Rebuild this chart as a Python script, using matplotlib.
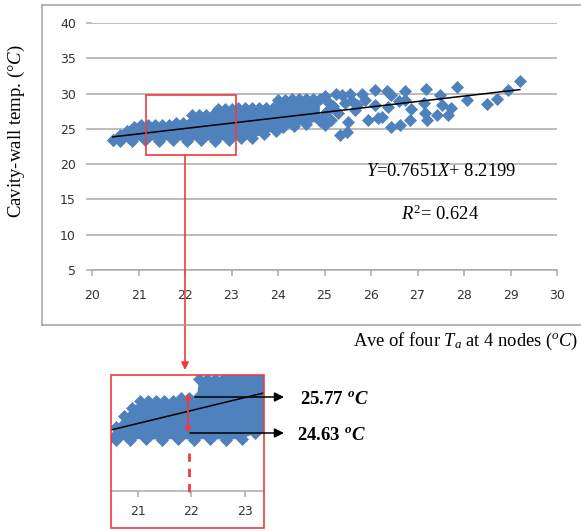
import matplotlib
matplotlib.use('Agg')
from matplotlib import pyplot as plt
from matplotlib.patches import Rectangle, FancyArrowPatch
from matplotlib.lines import Line2D
import numpy as np

plt.rcParams['font.family'] = ['Liberation Serif', 'DejaVu Sans']
plt.rcParams['mathtext.fontset'] = 'custom'
plt.rcParams['mathtext.rm'] = 'Liberation Serif'
plt.rcParams['mathtext.it'] = 'Liberation Serif:italic'
plt.rcParams['mathtext.bf'] = 'Liberation Serif:bold'
plt.rcParams['mathtext.bfit'] = 'Liberation Serif:italic:bold'

# dense band of points: upper and lower edges of the cloud
top_x = [20.45, 20.6, 20.75, 20.9, 21.05, 21.2, 21.35, 21.5, 21.65, 21.8, 21.95, 22.1,
         22.15, 22.3, 22.45, 22.6, 22.7, 22.85, 23.0, 23.15, 23.3, 23.45, 23.6, 23.75,
         23.9, 24.0, 24.15, 24.3, 24.45, 24.6, 24.75, 24.9]
top_y = [23.4, 24.1, 24.7, 25.2, 25.6, 25.6, 25.6, 25.6, 25.6, 25.8, 25.8, 25.8,
         26.9, 26.9, 26.9, 26.9, 27.8, 27.8, 27.8, 27.9, 27.9, 27.9, 28.0, 28.0,
         28.0, 29.1, 29.1, 29.2, 29.2, 29.2, 29.2, 29.2]
bot_x = [20.45, 20.6, 20.85, 21.15, 21.45, 21.75, 22.05, 22.35, 22.65, 22.95, 23.2,
         23.45, 23.7, 23.95, 24.1, 24.35, 24.6, 24.9]
bot_y = [23.4, 23.3, 23.3, 23.4, 23.3, 23.4, 23.3, 23.4, 23.3, 23.4, 23.7,
         23.7, 24.3, 24.7, 25.3, 25.4, 25.7, 26.1]

# scattered points beyond the band
pts_x = [24.95, 25.0, 25.0, 25.05, 25.1, 25.15, 25.19, 25.25, 25.3, 25.33, 25.37, 25.45,
         25.48, 25.5, 25.55, 25.6, 25.66, 25.7, 25.8, 25.87, 25.94, 26.09, 26.09, 26.15,
         26.23, 26.34, 26.37, 26.41, 26.44, 26.44, 26.6, 26.62, 26.73, 26.73, 26.84, 26.85,
         27.13, 27.16, 27.18, 27.2, 27.43, 27.48, 27.52, 27.66, 27.72, 27.84, 28.07, 28.49,
         28.72, 28.95, 29.2]
pts_y = [26.5, 29.6, 25.6, 27.5, 28.6, 26.3, 28.2, 29.9, 27.3, 24.1, 29.8, 28.6,
         24.6, 26.0, 29.9, 29.0, 27.7, 28.4, 30.0, 29.1, 26.3, 30.5, 28.4, 26.5,
         26.7, 30.3, 28.1, 30.0, 29.8, 25.3, 29.0, 25.55, 30.3, 29.1, 26.3, 27.75,
         28.6, 27.2, 30.6, 26.2, 27.0, 29.8, 28.4, 27.0, 27.9, 31.0, 29.1, 28.5,
         29.3, 30.5, 31.8]

slope, intercept = 0.7651, 8.2199
fit_x = np.array([20.45, 29.2])
fit_y = slope * fit_x + intercept

blue = '#4F81BD'
grid_c = '#ABABAB'
red = '#F03C3C'
W, H = 581, 531


def fx(px):
    return px / W


def fy(py):
    return 1 - py / H


def draw_data(ax):
    ax.fill(top_x + bot_x[::-1], top_y + bot_y[::-1], color=blue, lw=0, zorder=2)
    ax.scatter(top_x + bot_x, top_y + bot_y, marker='D', s=44, color=blue, lw=0, zorder=2)
    ax.scatter(pts_x, pts_y, marker='D', s=44, color=blue, lw=0, zorder=2)
    ax.plot(fit_x, fit_y, color='black', lw=1.1, zorder=3)


fig = plt.figure(figsize=(5.81, 5.31), dpi=100)

# outer frame of the main chart
for seg in [((42, 42), (5, 325)), ((42, 581), (5, 5)), ((42, 581), (325, 325))]:
    fig.add_artist(Line2D([fx(p) for p in seg[0]], [fy(p) for p in seg[1]],
                          color='#A0A0A0', lw=1.1))

ax = fig.add_axes([fx(92), fy(270), (557 - 92) / W, (270 - 23) / H])
draw_data(ax)
ax.set_xlim(20, 30)
ax.set_ylim(5, 40)
ax.set_xticks(range(20, 31))
ax.set_yticks(range(5, 41, 5))
ax.grid(axis='y', color=grid_c, lw=1.1, zorder=0)
ax.set_axisbelow(True)
for s in ['top', 'right', 'left']:
    ax.spines[s].set_visible(False)
ax.spines['bottom'].set_color(grid_c)
ax.spines['bottom'].set_linewidth(1.1)
ax.tick_params(axis='x', colors=grid_c, length=4, width=1.1, pad=9.5, labelcolor='#333333')
ax.tick_params(axis='y', colors=grid_c, length=4, width=1.1, pad=7.5, labelcolor='#333333')
for lab in ax.get_xticklabels() + ax.get_yticklabels():
    lab.set_family('DejaVu Sans')
    lab.set_fontsize(9)

ax.text(fx(441), fy(172), r'$Y$=0.7651$X$+ 8.2199', transform=fig.transFigure,
        ha='center', va='center', fontsize=13.3)
ax.text(fx(440), fy(214), r'$R^{2}$= 0.624', transform=fig.transFigure,
        ha='center', va='center', fontsize=13.3)
ax.add_patch(Rectangle((21.16, 21.3), 23.1 - 21.16, 29.8 - 21.3, fill=False,
                       edgecolor=red, lw=1.2, zorder=4))

fig.text(fx(16), fy(131), 'Cavity-wall temp. (°$C$)', rotation=90,
         ha='center', va='center', fontsize=13.5)
fig.text(fx(578), fy(341), r'Ave of four $T_a$ at 4 nodes ($^{o}C$)',
         ha='right', va='center', fontsize=13.3)

# connector from the main chart to the zoomed view
fig.add_artist(FancyArrowPatch(
    (fx(185), fy(155)), (fx(185), fy(370)), transform=fig.transFigure,
    arrowstyle='-|>', mutation_scale=11, color=red, lw=1.2, shrinkA=0, shrinkB=0))

# zoomed inset
ax2 = fig.add_axes([fx(111), fy(491), (264 - 111) / W, (491 - 375) / H])
draw_data(ax2)
ax2.set_xlim(20.5, 23.36)
ax2.set_ylim(20.3, 27.15)
ax2.set_xticks([21, 22, 23])
ax2.set_yticks([])
for s in ['top', 'right', 'left']:
    ax2.spines[s].set_visible(False)
ax2.spines['bottom'].set_color(grid_c)
ax2.spines['bottom'].set_linewidth(1.1)
ax2.tick_params(axis='x', colors=grid_c, length=4, width=1.1, pad=6, labelcolor='#333333')
for lab in ax2.get_xticklabels():
    lab.set_family('DejaVu Sans')
    lab.set_fontsize(9)
ax2.patch.set_alpha(0)

fig.add_artist(Rectangle((fx(111), fy(528)), (264 - 111) / W, (528 - 375) / H,
                         transform=fig.transFigure, fill=False, edgecolor=red, lw=1.2))

# range markers inside the inset
fig.add_artist(FancyArrowPatch(
    (fx(188), fy(393)), (fx(188), fy(433)), transform=fig.transFigure,
    arrowstyle='<|-|>', mutation_scale=8, color=red, lw=1.3, shrinkA=0, shrinkB=0))
fig.add_artist(Line2D([fx(189), fx(189)], [fy(453), fy(497)], color=red, lw=2,
                      linestyle=(0, (3, 2.5))))
for y0, x0 in [(397, 195), (433, 190)]:
    fig.add_artist(FancyArrowPatch(
        (fx(x0), fy(y0)), (fx(284), fy(y0)), transform=fig.transFigure,
        arrowstyle='-|>', mutation_scale=14, color='black', lw=1.1, shrinkA=0, shrinkB=0))
fig.text(fx(300), fy(399), r'25.77 $^{\mathbfit{o}}\mathbfit{C}$', fontsize=13.5,
         fontweight='bold', ha='left', va='center')
fig.text(fx(297), fy(435), r'24.63 $^{\mathbfit{o}}\mathbfit{C}$', fontsize=13.5,
         fontweight='bold', ha='left', va='center')

plt.savefig('out.png', dpi=100)
